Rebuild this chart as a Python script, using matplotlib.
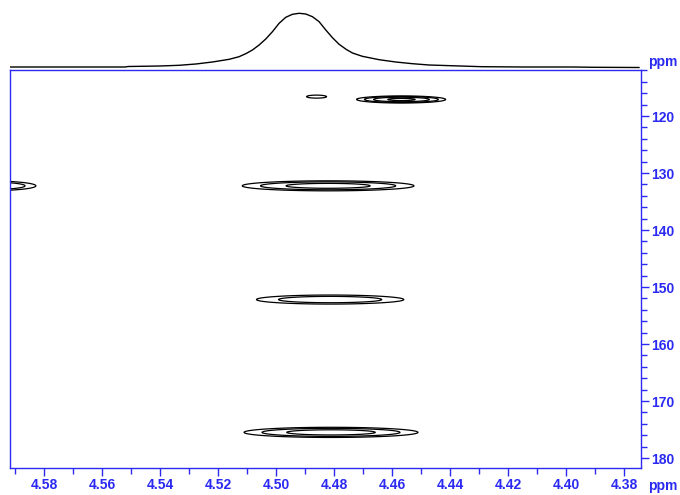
import numpy as np
import matplotlib
matplotlib.use("Agg")
import matplotlib.pyplot as plt
from matplotlib.ticker import MultipleLocator

# 1H projection (ppm, height)
proj_ppm = [4.592, 4.552, 4.551, 4.540, 4.5334, 4.5276, 4.5219, 4.5161, 4.5127,
            4.5104, 4.5081, 4.5058, 4.5035, 4.5012, 4.4989, 4.4966, 4.4943,
            4.4920, 4.4897, 4.4874, 4.4851, 4.4828, 4.4805, 4.4782, 4.4758,
            4.4736, 4.4702, 4.4644, 4.4587, 4.4529, 4.4472, 4.4289, 4.4148,
            4.398, 4.390, 4.3748]
proj_int = [1.0, 1.0, 1.5, 2.0, 2.7, 4.0, 6.0, 8.7, 11.3,
            14.3, 18.0, 23.0, 29.0, 36.3, 44.7, 50.7, 53.7,
            54.7, 54.0, 51.3, 46.3, 38.0, 30.3, 23.7, 18.7,
            15.0, 11.7, 8.3, 6.0, 4.3, 3.0, 1.3, 1.0,
            1.0, 0.7, 0.5]

# cross peaks: 1H shift, 13C shift, intensity, widths
peak_h = [4.486, 4.4567, 4.482, 4.4813, 4.481, 4.600]
peak_c = [116.6, 117.1, 132.25, 152.2, 175.5, 132.25]
peak_amp = [1.15, 10.0, 6.2, 3.9, 6.5, 6.0]
peak_wh = [0.0065, 0.0071, 0.0155, 0.0154, 0.0155, 0.0091]
peak_wc = [0.5, 0.29, 0.46, 0.48, 0.46, 0.46]
levels = [1, 2, 4, 8]

x_ticks = [4.58, 4.56, 4.54, 4.52, 4.50, 4.48, 4.46, 4.44, 4.42, 4.40, 4.38]
y_ticks = [120, 130, 140, 150, 160, 170, 180]

blue = "#2a2af2"
plt.rcParams["font.family"] = ["Liberation Sans", "DejaVu Sans"]

fig = plt.figure(figsize=(6.8, 4.95), dpi=100)
ax = fig.add_axes([10 / 680, 1 - 468 / 495, 631 / 680, 398 / 495])
axp = fig.add_axes([10 / 680, 1 - 69 / 495, 631 / 680, 61 / 495], sharex=ax)

xx = np.linspace(4.37, 4.62, 600)
yy = np.linspace(110, 183, 1500)
X, Y = np.meshgrid(xx, yy)
Z = np.zeros_like(X)
for h, c, a, wh, wc in zip(peak_h, peak_c, peak_amp, peak_wh, peak_wc):
    Z += a * np.exp(-0.5 * ((X - h) / wh) ** 2 - 0.5 * ((Y - c) / wc) ** 2)
ax.contour(X, Y, Z, levels=levels, colors="black", linewidths=0.9)

ax.set_xlim(4.5917, 4.3741)
ax.set_ylim(181.75, 111.93)
ax.yaxis.tick_right()
ax.set_xticks(x_ticks)
ax.set_xticklabels([f"{t:.2f}" for t in x_ticks])
ax.set_yticks(y_ticks)
ax.xaxis.set_minor_locator(MultipleLocator(0.01))
ax.yaxis.set_minor_locator(MultipleLocator(2))
ax.tick_params(which="both", colors=blue, labelcolor=blue, labelsize=10,
               direction="out", width=1)
ax.tick_params(which="minor", length=4)
ax.tick_params(axis="x", which="major", length=6, pad=1.5)
ax.tick_params(axis="y", which="major", length=6, pad=1)
for lab in ax.get_xticklabels() + ax.get_yticklabels():
    lab.set_fontweight("bold")
for sp in ax.spines.values():
    sp.set_color(blue)
    sp.set_linewidth(1)

axp.plot(proj_ppm, proj_int, color="black", lw=1)
axp.set_ylim(-1, 60)
axp.axis("off")

fig.text(663 / 680, 1 - 62 / 495, "ppm", color=blue, fontsize=10,
         fontweight="bold", ha="center", va="center")
fig.text(663 / 680, 1 - 486 / 495, "ppm", color=blue, fontsize=10,
         fontweight="bold", ha="center", va="center")

fig.savefig("out.png", dpi=100)
